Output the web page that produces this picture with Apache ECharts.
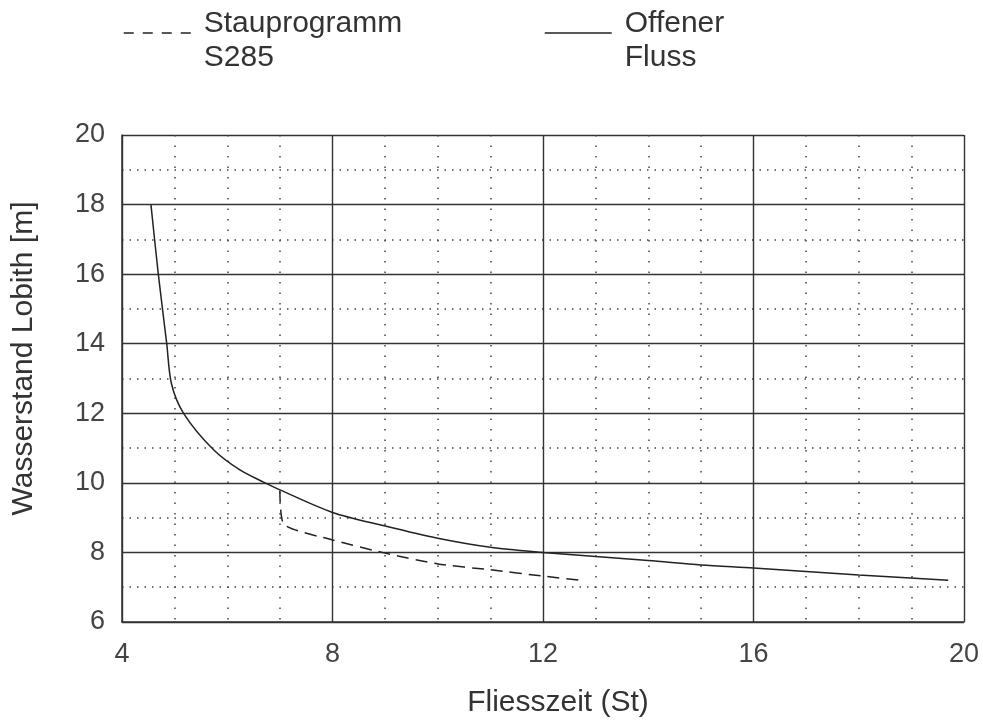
<!DOCTYPE html>
<html><head><meta charset="utf-8">
<script src="https://cdn.jsdelivr.net/npm/echarts@6/dist/echarts.min.js"></script>
<style>html,body{margin:0;padding:0;background:#fff}#c{width:983px;height:726px}</style>
</head><body><div id="c"></div>
<script>
// Offener Fluss (solid)
const offenerX = [4.55, 4.69, 4.85, 4.94, 5.17, 5.74, 6.24, 6.69, 7.0, 8.0, 9.0, 10.0, 11.0, 12.0, 13.0, 14.0, 15.0, 16.0, 18.0, 19.7];
const offenerY = [18.0, 16.0, 14.0, 12.85, 12.0, 10.95, 10.37, 10.02, 9.8, 9.15, 8.76, 8.41, 8.15, 8.0, 7.88, 7.77, 7.64, 7.55, 7.35, 7.2];
// Stauprogramm S285 (dashed)
const stauX = [7.0, 7.08, 8.0, 9.0, 10.0, 11.0, 12.0, 12.7];
const stauY = [9.78, 8.8, 8.36, 7.98, 7.67, 7.5, 7.32, 7.2];
const xTicks = [4, 8, 12, 16, 20];
const yTicks = [6, 8, 10, 12, 14, 16, 18, 20];
const names = ['Stauprogramm\nS285', 'Offener\nFluss'];

const font = '"Liberation Sans", Arial, sans-serif';
const chart = echarts.init(document.getElementById('c'), null, {renderer: 'canvas'});
const zip = (a, b) => a.map((v, i) => [v, b[i]]);
const legendBase = {
  top: 1, padding: 0, itemWidth: 67, itemHeight: 14, itemGap: 10,
  itemStyle: {opacity: 0},
  formatter: function (n) {
    const parts = n.split('\n');
    return '{sp|}{a|' + parts[0] + '}\n{a|' + parts[1] + '}';
  },
  textStyle: {
    fontFamily: font, fontSize: 30, color: '#333', padding: [0, 0, 0, 8],
    rich: {
      sp: {height: 46, width: 0},
      a: {fontFamily: font, fontSize: 30, color: '#333', lineHeight: 34, verticalAlign: 'bottom'}
    }
  }
};
chart.setOption({
  animation: false,
  backgroundColor: '#fff',
  legend: [
    Object.assign({data: [names[0]], left: 123, lineStyle: {type: [10, 9], width: 1.5}}, legendBase),
    Object.assign({data: [names[1]], left: 544, lineStyle: {width: 1.5}}, legendBase)
  ],
  grid: {left: 122, right: 19, top: 135, bottom: 104, containLabel: false},
  xAxis: {
    type: 'value', min: xTicks[0], max: xTicks[xTicks.length - 1], interval: 4,
    name: 'Fliesszeit (St)', nameLocation: 'middle', nameGap: 66,
    nameTextStyle: {fontFamily: font, fontSize: 30, color: '#333', padding: [0, 0, 0, 30]},
    axisLine: {show: true, lineStyle: {color: '#333', width: 1.5}},
    axisTick: {show: false},
    axisLabel: {fontFamily: font, fontSize: 27, color: '#444', margin: 19},
    splitLine: {show: true, lineStyle: {color: '#333', width: 1.4}},
    minorTick: {show: false, splitNumber: 4},
    minorSplitLine: {show: true, lineStyle: {color: '#444', width: 1.5, type: [1.5, 9]}}
  },
  yAxis: {
    type: 'value', min: yTicks[0], max: yTicks[yTicks.length - 1], interval: 2,
    name: 'Wasserstand Lobith [m]', nameLocation: 'middle', nameGap: 83,
    nameTextStyle: {fontFamily: font, fontSize: 30, color: '#333', padding: [0, 0, 0, 40]},
    axisLine: {show: true, lineStyle: {color: '#333', width: 1.5}},
    axisTick: {show: false},
    axisLabel: {fontFamily: font, fontSize: 27, color: '#444', margin: 17},
    splitLine: {show: true, lineStyle: {color: '#333', width: 1.4}},
    minorTick: {show: false, splitNumber: 2},
    minorSplitLine: {show: true, lineStyle: {color: '#444', width: 1.5, type: [1.5, 6]}}
  },
  series: [
    {name: names[0], type: 'line', data: zip(stauX, stauY), symbol: 'none', smooth: 0.2,
     lineStyle: {color: '#222', width: 1.5, type: [12, 7]}, itemStyle: {color: '#222'}},
    {name: names[1], type: 'line', data: zip(offenerX, offenerY), symbol: 'none', smooth: 0.3,
     lineStyle: {color: '#222', width: 1.5, type: 'solid'}, itemStyle: {color: '#222'}}
  ]
});
</script>
</body></html>
